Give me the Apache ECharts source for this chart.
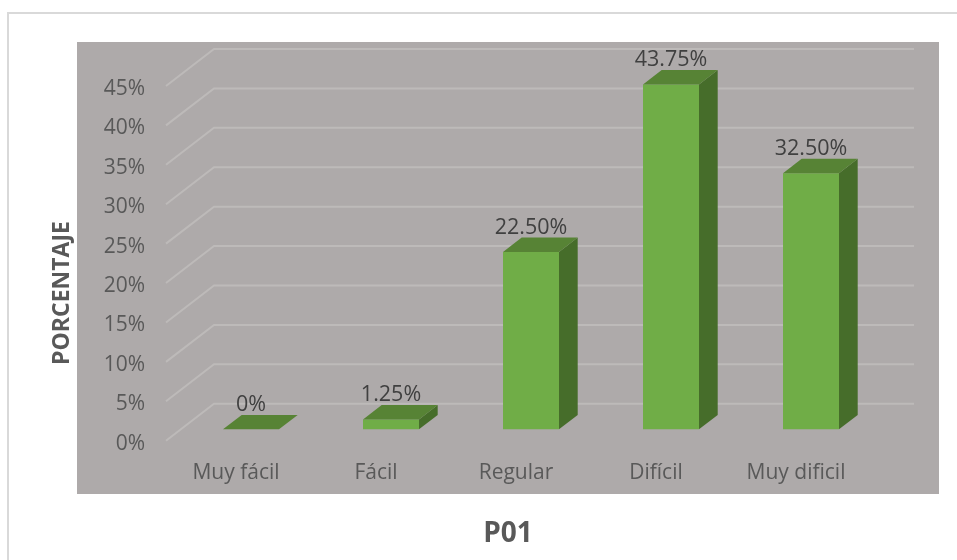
<!DOCTYPE html>
<html>
<head>
<meta charset="utf-8">
<style>
  html, body { margin: 0; padding: 0; background: #fff; }
  #chart { width: 957px; height: 560px; }
</style>
<script src="https://cdn.jsdelivr.net/npm/echarts@6/dist/echarts.min.js"></script>
</head>
<body>
<div id="chart"></div>
<script>
const categories = ['Muy fácil', 'Fácil', 'Regular', 'Difícil', 'Muy dificil'];
const values = [0, 1.25, 22.5, 43.75, 32.5];
const valueLabels = ['0%', '1.25%', '22.50%', '43.75%', '32.50%'];
const gridTicks = [0, 5, 10, 15, 20, 25, 30, 35, 40, 45];

const FONT = '"Open Sans", "Noto Sans", sans-serif';

// fake 3d: depth of the floor and where the bars sit on it
const floorDx = 48, floorDy = 37;
const barDx = 15, barDy = 11.4;
const barW = 56, sideDx = 18.7, sideDy = 14.4;

function renderWall(params, api) {
  const y = api.coord([0, api.value(0)])[1];
  const x0 = params.coordSys.x;
  return {
    type: 'polyline',
    shape: { points: [[x0, y], [x0 + floorDx, y - floorDy], [x0 + params.coordSys.width + floorDx, y - floorDy]] },
    style: { fill: null, stroke: '#bdbab9', lineWidth: 2 }
  };
}

function renderBar(params, api) {
  const base = api.coord([api.value(0), 0]);
  const top = api.coord([api.value(0), api.value(1)]);
  const l = base[0] + barDx - barW / 2, r = l + barW;
  const b = base[1] - barDy, t = top[1] - barDy;
  return {
    type: 'group',
    children: [
      { type: 'rect', shape: { x: l, y: t, width: barW, height: b - t }, style: { fill: '#70ad47' } },
      { type: 'polygon', shape: { points: [[r, t], [r + sideDx, t - sideDy], [r + sideDx, b - sideDy], [r, b]] }, style: { fill: '#466d2a' } },
      { type: 'polygon', shape: { points: [[l, t], [l + sideDx, t - sideDy], [r + sideDx, t - sideDy], [r, t]] }, style: { fill: '#578335' } },
      {
        type: 'text',
        style: {
          x: (l + r) / 2, y: t - sideDy - 10,
          text: valueLabels[params.dataIndex],
          align: 'center', verticalAlign: 'middle',
          font: '21.5px ' + FONT, fill: '#404040'
        }
      }
    ]
  };
}

const chart = echarts.init(document.getElementById('chart'));
chart.setOption({
  animation: false,
  graphic: [
    { type: 'rect', z: -10, shape: { x: 8, y: 13, width: 960, height: 560 }, style: { fill: '#fff', stroke: '#d9d9d9', lineWidth: 2 } },
    { type: 'rect', z: -9, shape: { x: 77, y: 42, width: 862, height: 452 }, style: { fill: '#aeaaaa' } },
    {
      type: 'text', x: 62, y: 293, rotation: Math.PI / 2,
      style: {
        text: 'PORCENTAJE', align: 'center', verticalAlign: 'middle',
        font: 'bold 23px ' + FONT, fill: '#595959'
      }
    }
  ],
  title: {
    text: 'P01', left: 503, top: 515, textAlign: 'center',
    textStyle: { fontFamily: FONT, fontSize: 28, fontWeight: 'bold', color: '#595959' }
  },
  grid: { left: 166, top: 86, width: 700, height: 354.7 },
  xAxis: {
    type: 'category', data: categories,
    axisLine: { show: false }, axisTick: { show: false }, splitLine: { show: false },
    axisLabel: { margin: 22, fontFamily: FONT, fontSize: 21, color: '#595959' }
  },
  yAxis: {
    type: 'value', min: 0, max: 45, interval: 5,
    axisLine: { show: false }, axisTick: { show: false }, splitLine: { show: false },
    axisLabel: {
      margin: 21, color: '#595959', formatter: '{t|{value}%}',
      rich: { t: { fontFamily: FONT, fontSize: 21, color: '#595959', padding: [6, 0, 0, 0] } }
    }
  },
  series: [
    { type: 'custom', z: 1, data: gridTicks.map(v => [v]), encode: { y: 0 }, renderItem: renderWall, silent: true },
    { type: 'custom', z: 2, data: values.map((v, i) => [i, v]), encode: { x: 0, y: 1 }, renderItem: renderBar }
  ]
});
</script>
</body>
</html>
